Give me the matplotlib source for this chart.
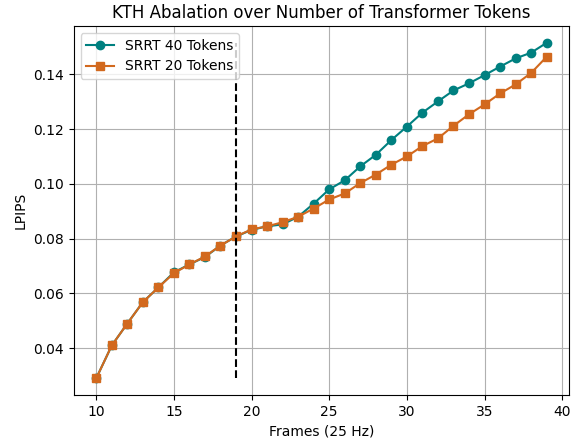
import matplotlib
matplotlib.use("Agg")
import matplotlib.pyplot as plt

frames = list(range(10, 40))

lpips_40_tokens = [0.0290, 0.0410, 0.0490, 0.0568, 0.0622, 0.0677, 0.0706, 0.0733,
                   0.0775, 0.0808, 0.0832, 0.0845, 0.0852, 0.0880, 0.0928, 0.0980,
                   0.1013, 0.1064, 0.1106, 0.1160, 0.1209, 0.1260, 0.1301, 0.1341,
                   0.1367, 0.1397, 0.1428, 0.1458, 0.1479, 0.1515]

lpips_20_tokens = [0.0290, 0.0410, 0.0490, 0.0568, 0.0622, 0.0674, 0.0706, 0.0735,
                   0.0775, 0.0808, 0.0834, 0.0845, 0.0860, 0.0880, 0.0910, 0.0943,
                   0.0965, 0.1003, 0.1034, 0.1070, 0.1100, 0.1138, 0.1166, 0.1212,
                   0.1254, 0.1290, 0.1330, 0.1363, 0.1405, 0.1464]

split_frame = 19

fig, ax = plt.subplots(figsize=(5.85, 4.41), dpi=100)
fig.subplots_adjust(left=0.126, right=0.973, top=0.941, bottom=0.104)

ax.plot(frames, lpips_40_tokens, marker="o", color="#008080", label="SRRT 40 Tokens")
ax.plot(frames, lpips_20_tokens, marker="s", color="#D2691E", label="SRRT 20 Tokens")

all_vals = lpips_40_tokens + lpips_20_tokens
ax.vlines(split_frame, min(all_vals), max(all_vals), colors="black", linestyles="--")

ax.set_title("KTH Abalation over Number of Transformer Tokens")
ax.set_xlabel("Frames (25 Hz)")
ax.set_ylabel("LPIPS")
ax.grid(True)
ax.legend(loc="upper left")

fig.savefig("out.png", dpi=100)
